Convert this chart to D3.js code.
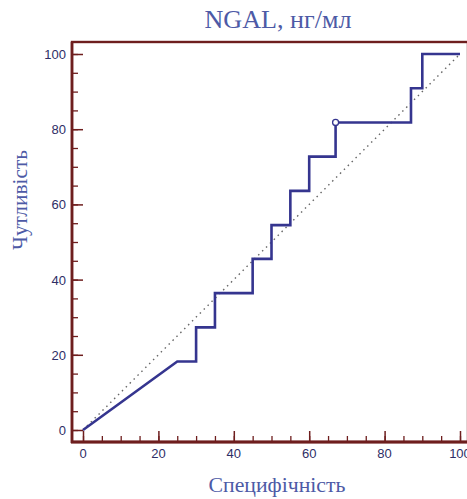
<!DOCTYPE html>
<html><head><meta charset="utf-8">
<script src="https://cdn.jsdelivr.net/npm/d3@7"></script>
<style>body{margin:0;background:#fff}svg{display:block}</style>
</head><body>
<script>
const specificity = [0, 25, 30, 30, 35, 35, 45, 45, 50, 50, 55, 55, 60, 60, 67, 67, 87, 87, 90, 90, 100];
const sensitivity = [0, 18.2, 18.2, 27.3, 27.3, 36.4, 36.4, 45.5, 45.5, 54.5, 54.5, 63.6, 63.6, 72.7, 72.7, 81.8, 81.8, 90.9, 90.9, 100, 100];
const cutPoint = {x: 67, y: 81.8};
const xTicks = [0, 20, 40, 60, 80, 100];
const yTicks = [0, 20, 40, 60, 80, 100];
const title = "NGAL, нг/мл";
const xTitle = "Специфічність";
const yTitle = "Чутливість";

const W = 467, H = 499;
const svg = d3.select("body").append("svg").attr("width", W).attr("height", H);
const x = d3.scaleLinear().domain([0, 100]).range([83, 460]);
const y = d3.scaleLinear().domain([0, 100]).range([430, 54]);
const frame = "#6e1e1e";
const labCol = "#2e2e66";
const titleCol = "#4d5aa6";
const serif = "Liberation Serif, Times New Roman, serif";

// frame
svg.append("rect").attr("x", 72).attr("y", 42).attr("width", 396).attr("height", 400)
  .attr("fill", "#fff").attr("stroke", frame).attr("stroke-width", 2.4);

// diagonal
svg.append("line").attr("x1", x(0)).attr("y1", y(0)).attr("x2", x(100)).attr("y2", y(100))
  .attr("stroke", "#666").attr("stroke-width", 1.4).attr("stroke-dasharray", "1.5,4");

// axes
const minor = d3.range(0, 101, 5);
const yg = svg.append("g").attr("transform", "translate(72,0)")
  .call(d3.axisRight(y).tickValues(minor).tickSize(6).tickFormat(""));
const xg = svg.append("g").attr("transform", "translate(0,442)")
  .call(d3.axisTop(x).tickValues(minor).tickSize(6).tickFormat(""));
[yg, xg].forEach(g => { g.select(".domain").remove(); g.selectAll("line").attr("stroke", frame).attr("stroke-width", 1.3); });
const yMaj = svg.append("g").attr("transform", "translate(72,0)")
  .call(d3.axisRight(y).tickValues(yTicks).tickSize(11).tickFormat(""));
const xMaj = svg.append("g").attr("transform", "translate(0,442)")
  .call(d3.axisTop(x).tickValues(xTicks).tickSize(11).tickFormat(""));
[yMaj, xMaj].forEach(g => { g.select(".domain").remove(); g.selectAll("line").attr("stroke", frame).attr("stroke-width", 1.5); });
svg.append("line").attr("x1", 72).attr("y1", 42).attr("x2", 72).attr("y2", 443).attr("stroke", frame).attr("stroke-width", 2.6);
svg.append("line").attr("x1", 71).attr("y1", 442).attr("x2", 467).attr("y2", 442).attr("stroke", frame).attr("stroke-width", 3);

// tick labels
svg.append("g").selectAll("text").data(yTicks).join("text")
  .attr("x", 66).attr("y", d => y(d) + 5).attr("text-anchor", "end")
  .attr("font-family", "Liberation Sans, Arial, sans-serif").attr("font-size", 13).attr("fill", labCol)
  .text(d => d);
svg.append("g").selectAll("text").data(xTicks).join("text")
  .attr("x", d => x(d)).attr("y", 458).attr("text-anchor", "middle")
  .attr("font-family", "Liberation Sans, Arial, sans-serif").attr("font-size", 13).attr("fill", labCol)
  .text(d => d);

// ROC line
const pts = specificity.map((s, i) => [s, sensitivity[i]]);
svg.append("path").datum(pts)
  .attr("d", d3.line().x(d => x(d[0])).y(d => y(d[1])))
  .attr("fill", "none").attr("stroke", "#35358f").attr("stroke-width", 2.6).attr("stroke-linejoin", "miter");
svg.append("circle").attr("cx", x(cutPoint.x)).attr("cy", y(cutPoint.y)).attr("r", 3)
  .attr("fill", "#fff").attr("stroke", "#35358f").attr("stroke-width", 1.3);

// titles, sized to match the reference widths
function fitText(sel, target) {
  const w = sel.node().getComputedTextLength();
  const fs = +sel.attr("font-size");
  sel.attr("font-size", (fs * target / w).toFixed(2));
}
const t1 = svg.append("text").attr("x", 278).attr("y", 28).attr("text-anchor", "middle")
  .attr("font-family", serif).attr("font-size", 20).attr("fill", titleCol).text(title);
fitText(t1, 147);
const t2 = svg.append("text").attr("x", 277).attr("y", 492).attr("text-anchor", "middle")
  .attr("font-family", serif).attr("font-size", 18).attr("fill", titleCol).text(xTitle);
fitText(t2, 137);
const t3 = svg.append("text").attr("transform", "translate(27,200) rotate(-90)").attr("text-anchor", "middle")
  .attr("font-family", serif).attr("font-size", 18).attr("fill", titleCol).text(yTitle);
fitText(t3, 100);
</script>
</body></html>
